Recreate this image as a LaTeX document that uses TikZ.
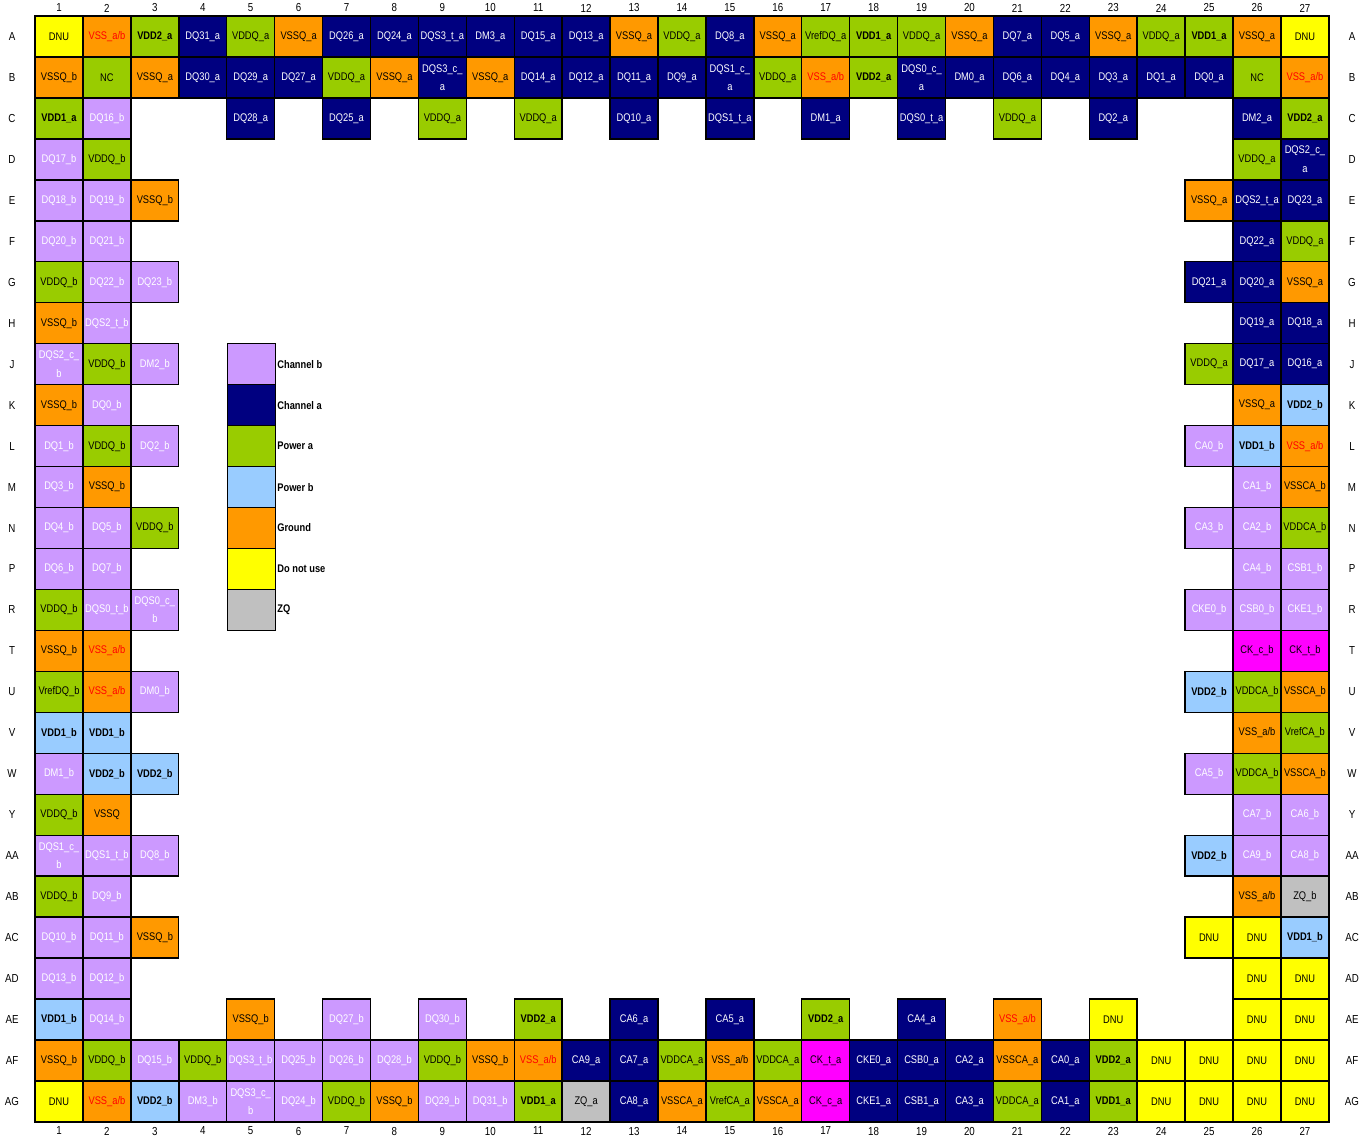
\documentclass[tikz,border=0pt]{standalone}
\usepackage{fontspec}
\newfontfamily\pinfont{Liberation Sans}[FakeStretch=0.84]
\definecolor{chbcol}{HTML}{CC99FF}
\definecolor{chacol}{HTML}{000080}
\definecolor{pwacol}{HTML}{99CC00}
\definecolor{pwbcol}{HTML}{99CCFF}
\definecolor{gndcol}{HTML}{FF9900}
\definecolor{dnucol}{HTML}{FFFF00}
\definecolor{zqcol}{HTML}{C0C0C0}
\definecolor{clkcol}{HTML}{FF00FF}
\tikzset{
  pin/.style={draw=black, line width=0.8pt, minimum width=0.958cm, minimum height=0.819cm,
    inner sep=0pt, align=center, font=\pinfont\fontsize{6.3}{10.5}\selectfont},
  chb/.style={pin, fill=chbcol, text=white},
  cha/.style={pin, fill=chacol, text=white},
  pwa/.style={pin, fill=pwacol},
  pwab/.style={pwa, font=\pinfont\bfseries\fontsize{6.3}{10.5}\selectfont},
  pwb/.style={pin, fill=pwbcol, font=\pinfont\bfseries\fontsize{6.3}{10.5}\selectfont},
  gnd/.style={pin, fill=gndcol},
  gndr/.style={gnd, text=red},
  dnu/.style={pin, fill=dnucol},
  zq/.style={pin, fill=zqcol},
  clk/.style={pin, fill=clkcol},
  keytext/.style={anchor=west, inner sep=0.5pt, font=\pinfont\bfseries\fontsize{6.3}{8}\selectfont},
  hdr/.style={inner sep=0pt, font=\pinfont\fontsize{6.6}{8}\selectfont}
}
% one row of balls: name, row number, col/text/kind list
\newcommand\pinrow[3]{%
  \foreach \pcol/\ptxt/\pkind in {#3}{%
    \node[\pkind] (#1\pcol) at ({59+(\pcol-1)*47.92},{36.5+(#2-1)*40.96}) {\ptxt};}}

\begin{document}
\begin{tikzpicture}[x=0.02cm, y=-0.02cm]
\useasboundingbox[fill=white] (0,0) rectangle (1372,1138);

% column numbers and row letters
\foreach \n in {1,...,27}{
  \node[hdr] (top\n) at ({59+(\n-1)*47.92},8) {\n};
  \node[hdr] (bot\n) at ({59+(\n-1)*47.92},1131) {\n};
}
\foreach \rl [count=\ri] in {A,B,C,D,E,F,G,H,J,K,L,M,N,P,R,T,U,V,W,Y,AA,AB,AC,AD,AE,AF,AG}{
  \node[hdr] (left\rl) at (12,{36.5+(\ri-1)*40.96}) {\rl};
  \node[hdr] (right\rl) at (1352,{36.5+(\ri-1)*40.96}) {\rl};
}

% balls
\pinrow{A}{1}{1/DNU/dnu, 2/{VSS\_a/b}/gndr, 3/VDD2\_a/pwab, 4/DQ31\_a/cha, 5/VDDQ\_a/pwa, 6/VSSQ\_a/gnd, 7/DQ26\_a/cha, 8/DQ24\_a/cha, 9/DQS3\_t\_a/cha, 10/DM3\_a/cha, 11/DQ15\_a/cha, 12/DQ13\_a/cha, 13/VSSQ\_a/gnd, 14/VDDQ\_a/pwa, 15/DQ8\_a/cha, 16/VSSQ\_a/gnd, 17/VrefDQ\_a/pwa, 18/VDD1\_a/pwab, 19/VDDQ\_a/pwa, 20/VSSQ\_a/gnd, 21/DQ7\_a/cha, 22/DQ5\_a/cha, 23/VSSQ\_a/gnd, 24/VDDQ\_a/pwa, 25/VDD1\_a/pwab, 26/VSSQ\_a/gnd, 27/DNU/dnu}
\pinrow{B}{2}{1/VSSQ\_b/gnd, 2/NC/pwa, 3/VSSQ\_a/gnd, 4/DQ30\_a/cha, 5/DQ29\_a/cha, 6/DQ27\_a/cha, 7/VDDQ\_a/pwa, 8/VSSQ\_a/gnd, 9/{DQS3\_c\_\\a}/cha, 10/VSSQ\_a/gnd, 11/DQ14\_a/cha, 12/DQ12\_a/cha, 13/DQ11\_a/cha, 14/DQ9\_a/cha, 15/{DQS1\_c\_\\a}/cha, 16/VDDQ\_a/pwa, 17/{VSS\_a/b}/gndr, 18/VDD2\_a/pwab, 19/{DQS0\_c\_\\a}/cha, 20/DM0\_a/cha, 21/DQ6\_a/cha, 22/DQ4\_a/cha, 23/DQ3\_a/cha, 24/DQ1\_a/cha, 25/DQ0\_a/cha, 26/NC/pwa, 27/{VSS\_a/b}/gndr}
\pinrow{C}{3}{1/VDD1\_a/pwab, 2/DQ16\_b/chb, 5/DQ28\_a/cha, 7/DQ25\_a/cha, 9/VDDQ\_a/pwa, 11/VDDQ\_a/pwa, 13/DQ10\_a/cha, 15/DQS1\_t\_a/cha, 17/DM1\_a/cha, 19/DQS0\_t\_a/cha, 21/VDDQ\_a/pwa, 23/DQ2\_a/cha, 26/DM2\_a/cha, 27/VDD2\_a/pwab}
\pinrow{D}{4}{1/DQ17\_b/chb, 2/VDDQ\_b/pwa, 26/VDDQ\_a/pwa, 27/{DQS2\_c\_\\a}/cha}
\pinrow{E}{5}{1/DQ18\_b/chb, 2/DQ19\_b/chb, 3/VSSQ\_b/gnd, 25/VSSQ\_a/gnd, 26/DQS2\_t\_a/cha, 27/DQ23\_a/cha}
\pinrow{F}{6}{1/DQ20\_b/chb, 2/DQ21\_b/chb, 26/DQ22\_a/cha, 27/VDDQ\_a/pwa}
\pinrow{G}{7}{1/VDDQ\_b/pwa, 2/DQ22\_b/chb, 3/DQ23\_b/chb, 25/DQ21\_a/cha, 26/DQ20\_a/cha, 27/VSSQ\_a/gnd}
\pinrow{H}{8}{1/VSSQ\_b/gnd, 2/DQS2\_t\_b/chb, 26/DQ19\_a/cha, 27/DQ18\_a/cha}
\pinrow{J}{9}{1/{DQS2\_c\_\\b}/chb, 2/VDDQ\_b/pwa, 3/DM2\_b/chb, 25/VDDQ\_a/pwa, 26/DQ17\_a/cha, 27/DQ16\_a/cha}
\pinrow{K}{10}{1/VSSQ\_b/gnd, 2/DQ0\_b/chb, 26/VSSQ\_a/gnd, 27/VDD2\_b/pwb}
\pinrow{L}{11}{1/DQ1\_b/chb, 2/VDDQ\_b/pwa, 3/DQ2\_b/chb, 25/CA0\_b/chb, 26/VDD1\_b/pwb, 27/{VSS\_a/b}/gndr}
\pinrow{M}{12}{1/DQ3\_b/chb, 2/VSSQ\_b/gnd, 26/CA1\_b/chb, 27/VSSCA\_b/gnd}
\pinrow{N}{13}{1/DQ4\_b/chb, 2/DQ5\_b/chb, 3/VDDQ\_b/pwa, 25/CA3\_b/chb, 26/CA2\_b/chb, 27/VDDCA\_b/pwa}
\pinrow{P}{14}{1/DQ6\_b/chb, 2/DQ7\_b/chb, 26/CA4\_b/chb, 27/CSB1\_b/chb}
\pinrow{R}{15}{1/VDDQ\_b/pwa, 2/DQS0\_t\_b/chb, 3/{DQS0\_c\_\\b}/chb, 25/CKE0\_b/chb, 26/CSB0\_b/chb, 27/CKE1\_b/chb}
\pinrow{T}{16}{1/VSSQ\_b/gnd, 2/{VSS\_a/b}/gndr, 26/CK\_c\_b/clk, 27/CK\_t\_b/clk}
\pinrow{U}{17}{1/VrefDQ\_b/pwa, 2/{VSS\_a/b}/gndr, 3/DM0\_b/chb, 25/VDD2\_b/pwb, 26/VDDCA\_b/pwa, 27/VSSCA\_b/gnd}
\pinrow{V}{18}{1/VDD1\_b/pwb, 2/VDD1\_b/pwb, 26/{VSS\_a/b}/gnd, 27/VrefCA\_b/pwa}
\pinrow{W}{19}{1/DM1\_b/chb, 2/VDD2\_b/pwb, 3/VDD2\_b/pwb, 25/CA5\_b/chb, 26/VDDCA\_b/pwa, 27/VSSCA\_b/gnd}
\pinrow{Y}{20}{1/VDDQ\_b/pwa, 2/VSSQ/gnd, 26/CA7\_b/chb, 27/CA6\_b/chb}
\pinrow{AA}{21}{1/{DQS1\_c\_\\b}/chb, 2/DQS1\_t\_b/chb, 3/DQ8\_b/chb, 25/VDD2\_b/pwb, 26/CA9\_b/chb, 27/CA8\_b/chb}
\pinrow{AB}{22}{1/VDDQ\_b/pwa, 2/DQ9\_b/chb, 26/{VSS\_a/b}/gnd, 27/ZQ\_b/zq}
\pinrow{AC}{23}{1/DQ10\_b/chb, 2/DQ11\_b/chb, 3/VSSQ\_b/gnd, 25/DNU/dnu, 26/DNU/dnu, 27/VDD1\_b/pwb}
\pinrow{AD}{24}{1/DQ13\_b/chb, 2/DQ12\_b/chb, 26/DNU/dnu, 27/DNU/dnu}
\pinrow{AE}{25}{1/VDD1\_b/pwb, 2/DQ14\_b/chb, 5/VSSQ\_b/gnd, 7/DQ27\_b/chb, 9/DQ30\_b/chb, 11/VDD2\_a/pwab, 13/CA6\_a/cha, 15/CA5\_a/cha, 17/VDD2\_a/pwab, 19/CA4\_a/cha, 21/{VSS\_a/b}/gndr, 23/DNU/dnu, 26/DNU/dnu, 27/DNU/dnu}
\pinrow{AF}{26}{1/VSSQ\_b/gnd, 2/VDDQ\_b/pwa, 3/DQ15\_b/chb, 4/VDDQ\_b/pwa, 5/DQS3\_t\_b/chb, 6/DQ25\_b/chb, 7/DQ26\_b/chb, 8/DQ28\_b/chb, 9/VDDQ\_b/pwa, 10/VSSQ\_b/gnd, 11/{VSS\_a/b}/gndr, 12/CA9\_a/cha, 13/CA7\_a/cha, 14/VDDCA\_a/pwa, 15/{VSS\_a/b}/gnd, 16/VDDCA\_a/pwa, 17/CK\_t\_a/clk, 18/CKE0\_a/cha, 19/CSB0\_a/cha, 20/CA2\_a/cha, 21/VSSCA\_a/gnd, 22/CA0\_a/cha, 23/VDD2\_a/pwab, 24/DNU/dnu, 25/DNU/dnu, 26/DNU/dnu, 27/DNU/dnu}
\pinrow{AG}{27}{1/DNU/dnu, 2/{VSS\_a/b}/gndr, 3/VDD2\_b/pwb, 4/DM3\_b/chb, 5/{DQS3\_c\_\\b}/chb, 6/DQ24\_b/chb, 7/VDDQ\_b/pwa, 8/VSSQ\_b/gnd, 9/DQ29\_b/chb, 10/DQ31\_b/chb, 11/VDD1\_a/pwab, 12/ZQ\_a/zq, 13/CA8\_a/cha, 14/VSSCA\_a/gnd, 15/VrefCA\_a/pwa, 16/VSSCA\_a/gnd, 17/CK\_c\_a/clk, 18/CKE1\_a/cha, 19/CSB1\_a/cha, 20/CA3\_a/cha, 21/VDDCA\_a/pwa, 22/CA1\_a/cha, 23/VDD1\_a/pwab, 24/DNU/dnu, 25/DNU/dnu, 26/DNU/dnu, 27/DNU/dnu}

% legend
\foreach \kkind/\ktxt [count=\ki] in {chb/Channel b, cha/Channel a, pwa/Power a, pwb/Power b, gnd/Ground, dnu/Do not use, zq/ZQ}{
  \node[\kkind] (key\ki) at (251.5,{36.5+(\ki+7)*40.96}) {};
  \node[keytext] (keylabel\ki) at (key\ki.east) {\ktxt};
}
\end{tikzpicture}
\end{document}
